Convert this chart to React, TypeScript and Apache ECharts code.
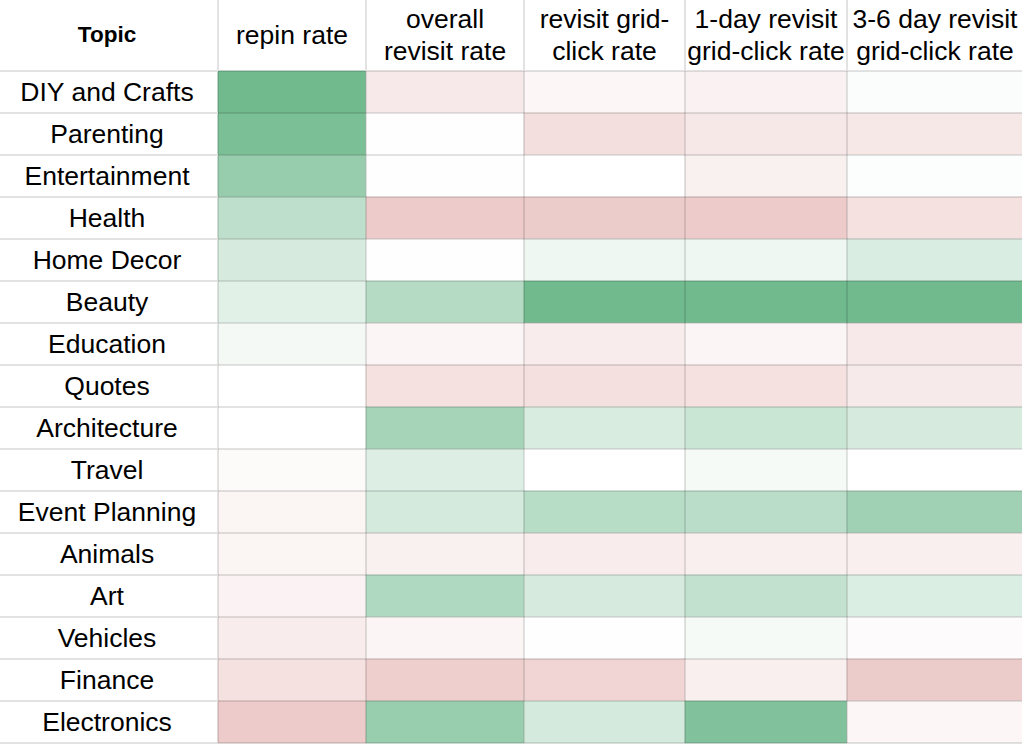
import React, { useEffect, useRef } from "react";
import * as echarts from "echarts";

// Row categories (topics), top to bottom
const topics = [
  "DIY and Crafts",
  "Parenting",
  "Entertainment",
  "Health",
  "Home Decor",
  "Beauty",
  "Education",
  "Quotes",
  "Architecture",
  "Travel",
  "Event Planning",
  "Animals",
  "Art",
  "Vehicles",
  "Finance",
  "Electronics",
];

// Column headers
const metrics = [
  "repin rate",
  "overall\nrevisit rate",
  "revisit grid-\nclick rate",
  "1-day revisit\ngrid-click rate",
  "3-6 day revisit\ngrid-click rate",
];

// Relative scores read from the cell shading (+1 = strongest green, -1 = strongest red)
const repinRate = [1.0, 0.93, 0.73, 0.46, 0.29, 0.2, 0.08, 0, 0, -0.1, -0.2, -0.2, -0.23, -0.35, -0.58, -1.0];
const overallRevisitRate = [-0.42, -0.02, 0.01, -1.0, 0.01, 0.52, -0.19, -0.58, 0.62, 0.24, 0.3, -0.29, 0.55, -0.19, -0.92, 0.72];
const revisitGridClickRate = [-0.17, -0.62, 0, -0.98, 0.12, 1.0, -0.36, -0.6, 0.27, 0, 0.5, -0.36, 0.29, 0.01, -0.81, 0.3];
const oneDayRevisitGridClickRate = [-0.25, -0.44, -0.29, -1.0, 0.12, 1.0, -0.19, -0.58, 0.38, 0.07, 0.49, -0.31, 0.43, 0.07, -0.31, 0.88];
const threeSixDayRevisitGridClickRate = [0.03, -0.44, 0.02, -0.58, 0.26, 1.0, -0.42, -0.4, 0.29, 0, 0.66, -0.31, 0.25, -0.08, -0.98, -0.17];

const columns = [
  repinRate,
  overallRevisitRate,
  revisitGridClickRate,
  oneDayRevisitGridClickRate,
  threeSixDayRevisitGridClickRate,
];

const FONT = "'Liberation Sans', Arial, Helvetica, sans-serif";
const FS = 26.5;
const GRID_TOP = 71;
const GRID_HEIGHT = 672;
const TOPIC_W = 218;
const colLayout = [
  { left: 218, width: 148 },
  { left: 366, width: 158 },
  { left: 524, width: 161 },
  { left: 685, width: 162 },
  { left: 847, width: 176 },
];

export default function App() {
  const ref = useRef<HTMLDivElement>(null);

  useEffect(() => {
    if (!ref.current) return;
    const chart = echarts.init(ref.current, null, { renderer: "svg" });

    const grids = colLayout.map((c) => ({
      left: c.left,
      width: c.width,
      top: GRID_TOP,
      height: GRID_HEIGHT,
      containLabel: false,
      outerBoundsMode: "none",
    }));

    const xAxes = metrics.map((m, i) => ({
      type: "category",
      gridIndex: i,
      position: "top",
      data: [m],
      z: 5,
      axisLine: { show: false },
      axisTick: {
        show: true,
        alignWithLabel: false,
        length: GRID_TOP,
        lineStyle: { color: "#E2E2E2", width: 2 },
      },
      axisLabel: {
        show: true,
        interval: 0,
        margin: 36,
        align: "center",
        verticalAlign: "middle",
        lineHeight: 32,
        fontSize: FS,
        fontFamily: FONT,
        color: "#000",
      },
      splitLine: {
        show: true,
        showMinLine: i === 0,
        showMaxLine: i !== colLayout.length - 1,
        lineStyle: { color: "rgba(0,0,0,0.11)", width: 2 },
      },
    }));

    const yAxes = metrics.map((_, i) => ({
      type: "category",
      gridIndex: i,
      data: topics,
      inverse: true,
      z: 5,
      axisLine: { show: false },
      axisTick: {
        show: i === 0,
        alignWithLabel: false,
        length: TOPIC_W,
        lineStyle: { color: "#E2E2E2", width: 2 },
      },
      axisLabel: {
        show: i === 0,
        interval: 0,
        margin: 111,
        align: "center",
        verticalAlign: "middle",
        padding: [2, 0, 0, 0],
        fontSize: FS,
        fontFamily: FONT,
        color: "#000",
      },
      splitLine: {
        show: true,
        lineStyle: { color: "rgba(0,0,0,0.11)", width: 2 },
      },
    }));

    const series = columns.map((vals, i) => ({
      type: "heatmap",
      xAxisIndex: i,
      yAxisIndex: i,
      data: vals.map((v, r) => [0, r, v]),
      label: { show: false },
      itemStyle: { borderWidth: 0 },
      emphasis: { disabled: true },
    }));

    chart.setOption({
      animation: false,
      backgroundColor: "#ffffff",
      grid: grids,
      xAxis: xAxes,
      yAxis: yAxes,
      visualMap: {
        type: "continuous",
        show: false,
        min: -1,
        max: 1,
        seriesIndex: [0, 1, 2, 3, 4],
        inRange: { color: ["#ECCBCA", "#FFFFFF", "#70BA8E"] },
      },
      graphic: [
        {
          type: "text",
          x: 107,
          y: 34,
          z: 10,
          style: {
            text: "Topic",
            fontSize: 22.5,
            fontWeight: "bold",
            fontFamily: FONT,
            fill: "#000",
            align: "center",
            verticalAlign: "middle",
          },
        },
      ],
      series,
    });

    return () => {
      chart.dispose();
    };
  }, []);

  return (
    <div
      ref={ref}
      style={{
        position: "fixed",
        left: 0,
        top: 0,
        width: 1022,
        height: 744,
        background: "#fff",
      }}
    />
  );
}
